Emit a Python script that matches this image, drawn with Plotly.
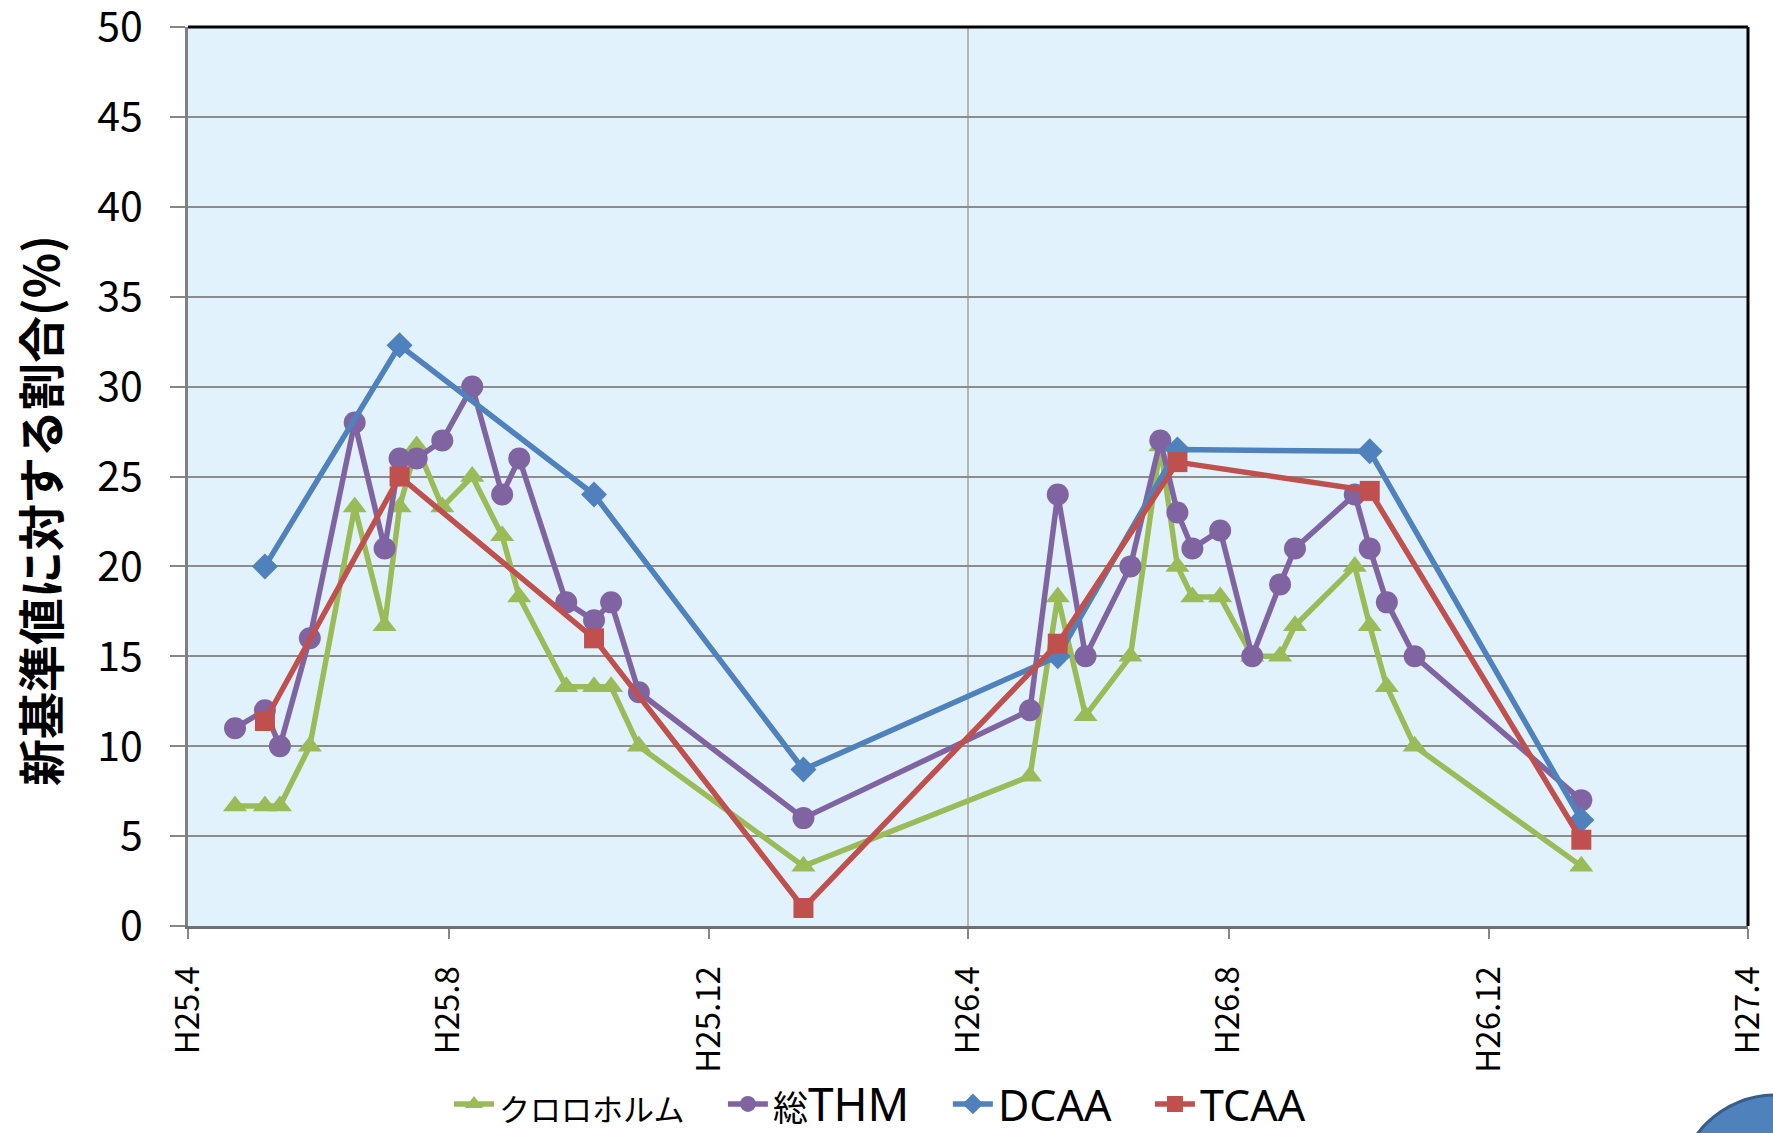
import plotly.graph_objects as go

# Sampling dates for chloroform and total THM (H25.4 - H27.4)
thm_dates = [
    "2013-04-23", "2013-05-07", "2013-05-14", "2013-05-28", "2013-06-18",
    "2013-07-02", "2013-07-09", "2013-07-17", "2013-07-29", "2013-08-12",
    "2013-08-26", "2013-09-03", "2013-09-25", "2013-10-08", "2013-10-16",
    "2013-10-29", "2014-01-14", "2014-04-30", "2014-05-13", "2014-05-26",
    "2014-06-16", "2014-06-30", "2014-07-08", "2014-07-15", "2014-07-28",
    "2014-08-12", "2014-08-25", "2014-09-01", "2014-09-29", "2014-10-06",
    "2014-10-14", "2014-10-27", "2015-01-13",
]
chloroform = [
    6.67, 6.67, 6.67, 10, 23.3, 16.7, 23.3, 26.7, 23.3, 25, 21.7, 18.3,
    13.3, 13.3, 13.3, 10, 3.33, 8.33, 18.3, 11.7, 15, 26.7, 20, 18.3,
    18.3, 15, 15, 16.7, 20, 16.7, 13.3, 10, 3.33,
]
total_thm = [
    11, 12, 10, 16, 28, 21, 26, 26, 27, 30, 24, 26, 18, 17, 18, 13, 6,
    12, 24, 15, 20, 27, 23, 21, 22, 15, 19, 21, 24, 21, 18, 15, 7,
]

# Sampling dates for the haloacetic acids
haa_dates = [
    "2013-05-07", "2013-07-09", "2013-10-08", "2014-01-14",
    "2014-05-13", "2014-07-08", "2014-10-06", "2015-01-13",
]
dcaa = [20, 32.3, 24, 8.7, 15, 26.5, 26.4, 5.9]
tcaa = [11.4, 25, 16, 1.0, 15.7, 25.8, 24.2, 4.8]

tick_dates = ["2013-04-01", "2013-08-01", "2013-12-01", "2014-04-01",
              "2014-08-01", "2014-12-01", "2015-04-01"]
tick_labels = ["H25.4", "H25.8", "H25.12", "H26.4", "H26.8", "H26.12", "H27.4"]
y_ticks = [0, 5, 10, 15, 20, 25, 30, 35, 40, 45, 50]

GREEN = "#9BBB59"
PURPLE = "#8064A2"
BLUE = "#4F81BD"
RED = "#C0504D"
FONT = "Noto Sans CJK JP, Noto Sans, sans-serif"
LATIN = "Noto Sans, Noto Sans CJK JP, sans-serif"

W, H = 1773, 1133
L, R, T, B = 188, 25, 27, 207
pw = W - L - R
ph = H - T - B
PAD = "&nbsp;" * 3


def px_x(p):
    return (p - L) / pw


def px_y(p):
    return (H - B - p) / ph


def span(s, size, family="Noto Sans CJK JP"):
    return f"<span style='font-family:{family};font-size:{size}px'>{s}</span>"


fig = go.Figure()
series = [
    (span("クロロホルム", 31) + PAD, thm_dates, chloroform, GREEN, "triangle-up", 21),
    (span("総", 35) + span("THM", 46, "Noto Sans") + PAD,
     thm_dates, total_thm, PURPLE, "circle", 22),
    ("DCAA" + PAD, haa_dates, dcaa, BLUE, "diamond", 20),
    ("TCAA", haa_dates, tcaa, RED, "square", 20),
]
for name, xs, ys, color, sym, size in series:
    fig.add_trace(go.Scatter(
        x=xs, y=ys, name=name, mode="lines+markers",
        line=dict(color=color, width=5.5),
        marker=dict(symbol=sym, size=size, color=color, line=dict(width=0)),
    ))

fig.update_layout(
    width=W, height=H,
    margin=dict(l=L, r=R, t=T, b=B, autoexpand=False),
    paper_bgcolor="white",
    plot_bgcolor="#E2F2FC",
    font=dict(family=FONT, color="black"),
    showlegend=True,
    legend=dict(
        orientation="h", xref="container", yref="container",
        x=880 / W, xanchor="center",
        y=1 - 1104 / H, yanchor="middle",
        font=dict(size=43, family=LATIN), itemwidth=40,
        bgcolor="rgba(0,0,0,0)",
    ),
    xaxis=dict(
        type="date", range=["2013-04-01", "2015-04-01"],
        tickvals=tick_dates, ticktext=tick_labels, tickangle=-90,
        tickfont=dict(size=33, family=FONT),
        ticks="outside", ticklen=10, tickwidth=2, tickcolor="#868686",
        ticklabelstandoff=14, automargin=False,
        showgrid=False, zeroline=False,
        showline=True, linecolor="#707070", linewidth=3,
    ),
    yaxis=dict(
        range=[0, 50], tickvals=y_ticks,
        tickfont=dict(size=41, family=FONT),
        ticks="outside", ticklen=15, tickwidth=2, tickcolor="#868686",
        ticklabelstandoff=19, automargin=False, ticklabeloverflow="allow",
        showgrid=True, gridcolor="#8C8C8C", gridwidth=2,
        zeroline=False,
        showline=True, linecolor="#808080", linewidth=3,
    ),
    annotations=[dict(
        text="<b>新基準値に対する割合(%)</b>",
        xref="paper", yref="paper", x=px_x(38), y=px_y(511),
        xanchor="center", yanchor="middle", textangle=-90,
        showarrow=False, font=dict(size=47, family=FONT, color="black"),
    )],
    shapes=[
        # fiscal-year divider at H26.4
        dict(type="line", xref="x", yref="paper", x0="2014-04-01", x1="2014-04-01",
             y0=0, y1=1, line=dict(color="#B4B4B4", width=2), layer="between"),
        # plot-area frame (top and right edges)
        dict(type="line", xref="paper", yref="paper", x0=0, x1=1, y0=1, y1=1,
             line=dict(color="black", width=3)),
        dict(type="line", xref="paper", yref="paper", x0=1, x1=1, y0=0, y1=1,
             line=dict(color="black", width=3)),
        # blue circle in the lower-right corner
        dict(type="circle", xref="paper", yref="paper",
             x0=px_x(1678), x1=px_x(1872), y0=px_y(1289), y1=px_y(1095),
             fillcolor=BLUE, line=dict(color="#385D8A", width=3)),
    ],
)

fig.write_html("out.html")
